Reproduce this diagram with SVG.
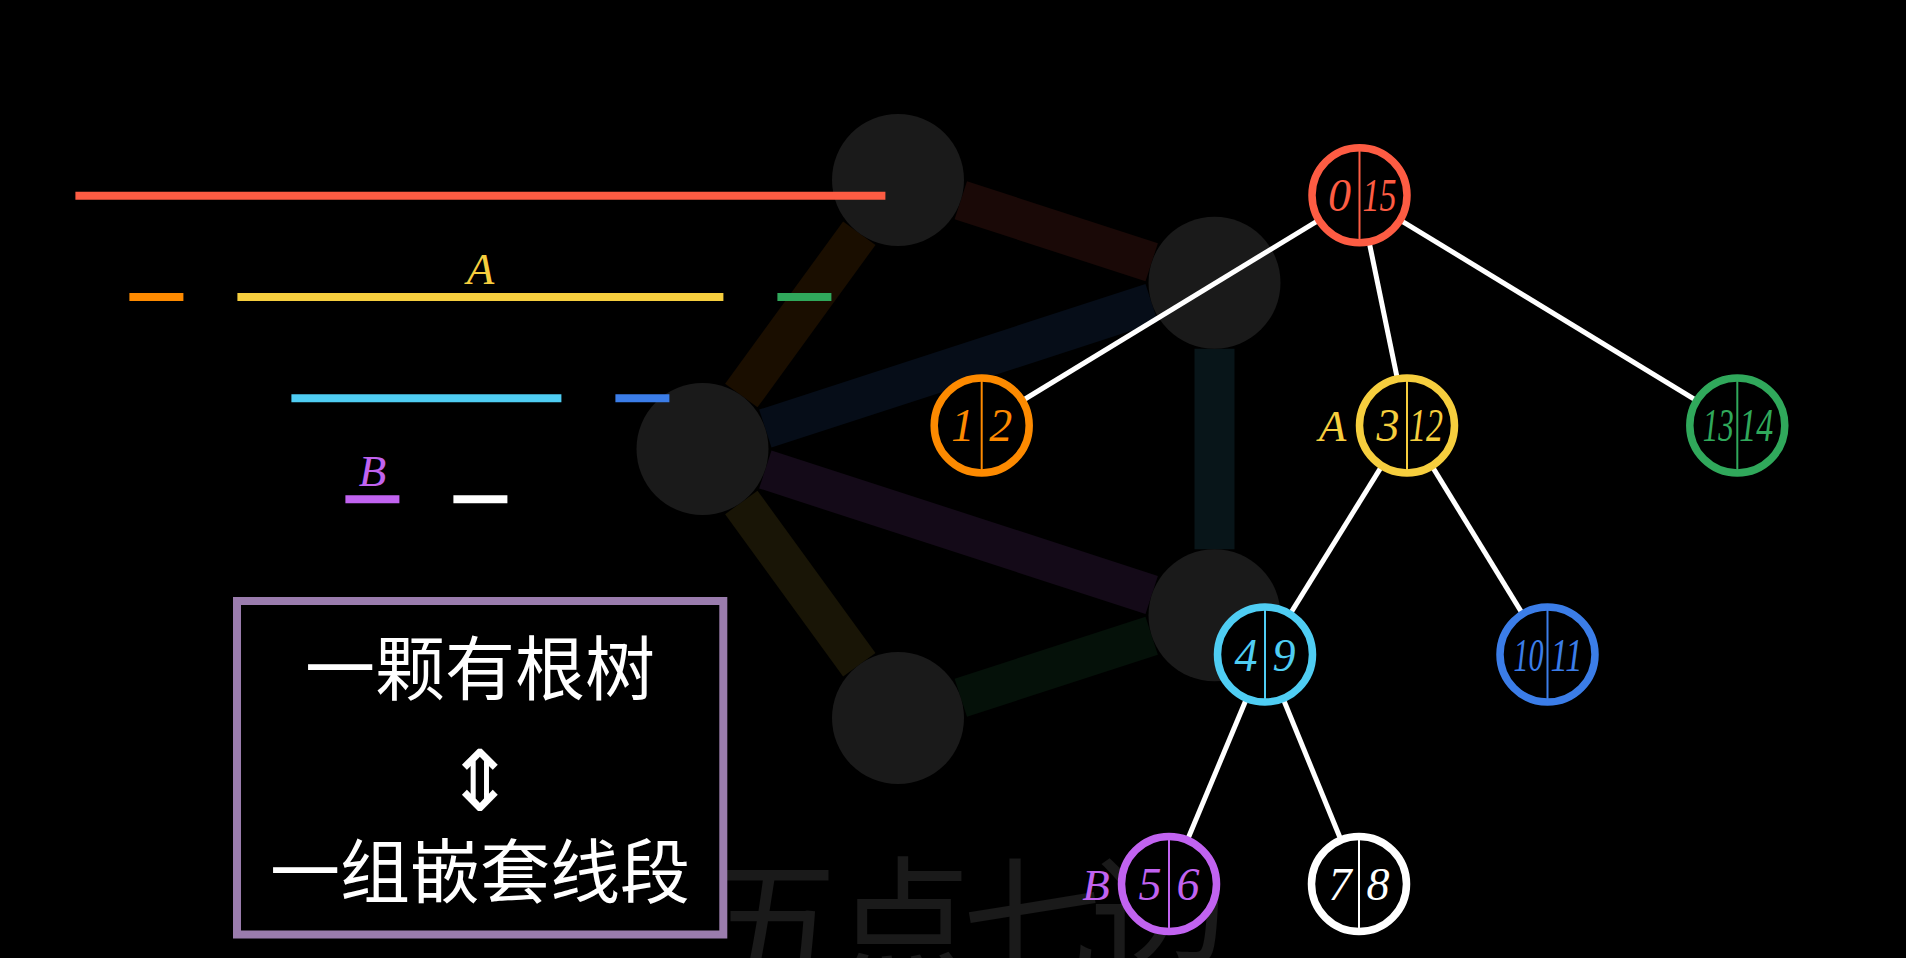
<svg xmlns="http://www.w3.org/2000/svg" width="1906" height="958" viewBox="0 0 1906 958">
<style>
.bg{fill:#000}
.wm{font-family:"Noto Sans CJK SC",sans-serif;font-size:140px;fill:#1a1a1a;letter-spacing:-12px}
.ge{fill:none;stroke-width:40;stroke-linecap:butt;stroke-opacity:0.1}
.gn{fill:#1a1a1a}
.bar{stroke-width:8;stroke-linecap:butt}
.te{stroke:#fff;stroke-width:5}
.tn circle{fill:#000;stroke-width:7.5}
.tn line{stroke-width:2}
.num{font-family:"Liberation Serif","Times New Roman",serif;font-style:italic;font-size:46px;text-anchor:middle}
.lbl{font-family:"Liberation Serif","Times New Roman",serif;font-style:italic;font-size:45px;text-anchor:middle}
.box{fill:none;stroke:#9a7cad;stroke-width:8}
.cjk{font-family:"Noto Sans CJK SC",sans-serif;font-size:70px;fill:#fff;text-anchor:middle}
.arr{font-family:"DejaVu Sans",sans-serif;font-size:84px;fill:#fff;text-anchor:middle}
</style>
<rect class="bg" x="0" y="0" width="1906" height="958"/>
<text class="wm" x="706" y="974">五点七边</text>

<g id="graph-edges">
<line class="ge" stroke="#fd5c43" x1="960.8" y1="200.2" x2="1151.7" y2="262.3"/>
<line class="ge" stroke="#fd8a00" x1="859.3" y1="233.2" x2="741.3" y2="395.6"/>
<line class="ge" stroke="#3b7de8" x1="765.3" y1="428.6" x2="1151.7" y2="303.0"/>
<line class="ge" stroke="#c163f0" x1="765.3" y1="469.4" x2="1151.7" y2="595.0"/>
<line class="ge" stroke="#f6ce3e" x1="741.3" y1="502.4" x2="859.3" y2="664.8"/>
<line class="ge" stroke="#4fcdf3" x1="1214.5" y1="348.7" x2="1214.5" y2="549.3"/>
<line class="ge" stroke="#30a85b" x1="1151.7" y1="635.7" x2="960.8" y2="697.8"/>
</g>
<g id="graph-nodes">
<circle id="g-top" class="gn" cx="898" cy="179.9" r="66"/>
<circle id="g-rt" class="gn" cx="1214.5" cy="282.7" r="66"/>
<circle id="g-left" class="gn" cx="702.5" cy="449" r="66"/>
<circle id="g-rb" class="gn" cx="1214.5" cy="615.3" r="66"/>
<circle id="g-bottom" class="gn" cx="898" cy="718.1" r="66"/>
</g>

<g id="segments">
<line class="bar" stroke="#fd5c43" x1="75.4" y1="195.7" x2="885.4" y2="195.7"/>
<line class="bar" stroke="#fd8a00" x1="129.4" y1="297" x2="183.4" y2="297"/>
<line class="bar" stroke="#f6ce3e" x1="237.4" y1="297" x2="723.4" y2="297"/>
<line class="bar" stroke="#30a85b" x1="777.4" y1="297" x2="831.4" y2="297"/>
<line class="bar" stroke="#4fcdf3" x1="291.4" y1="398.3" x2="561.4" y2="398.3"/>
<line class="bar" stroke="#3b7de8" x1="615.4" y1="398.3" x2="669.4" y2="398.3"/>
<line class="bar" stroke="#c163f0" x1="345.4" y1="499.3" x2="399.4" y2="499.3"/>
<line class="bar" stroke="#ffffff" x1="453.4" y1="499.3" x2="507.4" y2="499.3"/>
<text class="lbl" x="480.4" y="284.3" fill="#f6ce3e">A</text>
<text class="lbl" x="372.4" y="485.7" fill="#c163f0">B</text>
</g>

<g id="tree-edges">
<line class="te" x1="1359.5" y1="195.3" x2="981.7" y2="425.4"/>
<line class="te" x1="1359.5" y1="195.3" x2="1407" y2="425.4"/>
<line class="te" x1="1359.5" y1="195.3" x2="1737.3" y2="425.4"/>
<line class="te" x1="1407" y1="425.4" x2="1265" y2="654.5"/>
<line class="te" x1="1407" y1="425.4" x2="1547.5" y2="654.5"/>
<line class="te" x1="1265" y1="654.5" x2="1169" y2="884"/>
<line class="te" x1="1265" y1="654.5" x2="1359" y2="884"/>
</g>

<g id="n0_15" class="tn" transform="translate(1359.5,195.3)">
<circle r="47.5" stroke="#fd5c43"/><line x1="0" y1="-47.5" x2="0" y2="47.5" stroke="#fd5c43"/>
<text class="num" x="-20" y="16" fill="#fd5c43">0</text>
<text class="num" x="20" y="16" fill="#fd5c43" textLength="34" lengthAdjust="spacingAndGlyphs">15</text>
</g>
<g id="n1_2" class="tn" transform="translate(981.7,425.4)">
<circle r="47.5" stroke="#fd8a00"/><line x1="0" y1="-47.5" x2="0" y2="47.5" stroke="#fd8a00"/>
<text class="num" x="-19" y="16" fill="#fd8a00">1</text>
<text class="num" x="19" y="16" fill="#fd8a00">2</text>
</g>
<g id="n3_12" class="tn" transform="translate(1407,425.4)">
<circle r="47.5" stroke="#f6ce3e"/><line x1="0" y1="-47.5" x2="0" y2="47.5" stroke="#f6ce3e"/>
<text class="num" x="-19" y="16" fill="#f6ce3e">3</text>
<text class="num" x="19" y="16" fill="#f6ce3e" textLength="34" lengthAdjust="spacingAndGlyphs">12</text>
<text class="lbl" x="-74.5" y="16" fill="#f6ce3e">A</text>
</g>
<g id="n13_14" class="tn" transform="translate(1737.3,425.4)">
<circle r="47.5" stroke="#30a85b"/><line x1="0" y1="-47.5" x2="0" y2="47.5" stroke="#30a85b"/>
<text class="num" x="-19" y="16" fill="#30a85b" textLength="31" lengthAdjust="spacingAndGlyphs">13</text>
<text class="num" x="19" y="16" fill="#30a85b" textLength="34" lengthAdjust="spacingAndGlyphs">14</text>
</g>
<g id="n4_9" class="tn" transform="translate(1265,654.5)">
<circle r="47.5" stroke="#4fcdf3"/><line x1="0" y1="-47.5" x2="0" y2="47.5" stroke="#4fcdf3"/>
<text class="num" x="-19" y="16" fill="#4fcdf3">4</text>
<text class="num" x="19" y="16" fill="#4fcdf3">9</text>
</g>
<g id="n10_11" class="tn" transform="translate(1547.5,654.5)">
<circle r="47.5" stroke="#3b7de8"/><line x1="0" y1="-47.5" x2="0" y2="47.5" stroke="#3b7de8"/>
<text class="num" x="-19" y="16" fill="#3b7de8" textLength="30" lengthAdjust="spacingAndGlyphs">10</text>
<text class="num" x="19" y="16" fill="#3b7de8" textLength="32" lengthAdjust="spacingAndGlyphs">11</text>
</g>
<g id="n5_6" class="tn" transform="translate(1169,884)">
<circle r="47.5" stroke="#c163f0"/><line x1="0" y1="-47.5" x2="0" y2="47.5" stroke="#c163f0"/>
<text class="num" x="-19" y="16" fill="#c163f0">5</text>
<text class="num" x="19" y="16" fill="#c163f0">6</text>
<text class="lbl" x="-73" y="16" fill="#c163f0">B</text>
</g>
<g id="n7_8" class="tn" transform="translate(1359,884)">
<circle r="47.5" stroke="#ffffff"/><line x1="0" y1="-47.5" x2="0" y2="47.5" stroke="#ffffff"/>
<text class="num" x="-19" y="16" fill="#ffffff">7</text>
<text class="num" x="19" y="16" fill="#ffffff">8</text>
</g>

<g id="caption">
<rect class="box" x="237" y="601" width="486.3" height="333.5"/>
<text class="cjk" x="480" y="695">一颗有根树</text>
<text class="arr" x="480" y="810">⇕</text>
<text class="cjk" x="480" y="898">一组嵌套线段</text>
</g>
</svg>
